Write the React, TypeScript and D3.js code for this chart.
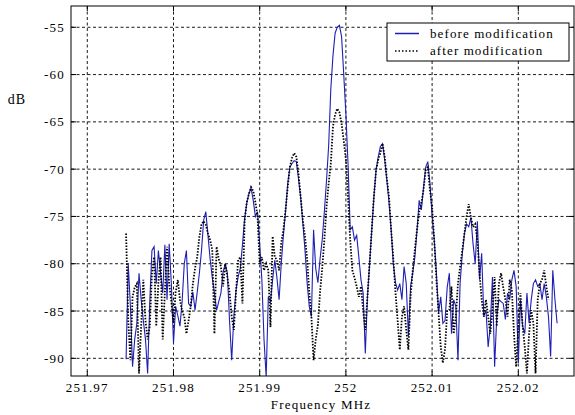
import React from 'react';
import * as d3 from 'd3';

// sampling grid of the spectrum analyser trace (MHz)
const F0 = 251.9745;
const DF = 0.00025;

// dB values, one per grid step
const beforeDb = [
  -90.1, -80.0, -84.5, -90.9, -88.0, -86.3, -81.0, -83.8, -86.0, -88.0,
  -91.6, -84.0, -78.6, -78.2, -82.1, -78.6, -81.0, -83.1, -78.0, -83.8,
  -77.9, -82.1, -88.4, -84.5, -85.5, -86.6, -84.0, -80.0, -78.6, -84.2,
  -84.5, -83.0, -84.9, -83.0, -81.0, -78.6, -75.4, -74.5, -77.0, -79.5,
  -81.5, -83.1, -84.9, -84.0, -83.1, -80.9, -80.0, -81.0, -86.0, -90.2,
  -85.6, -82.8, -81.4, -80.5, -78.0, -75.2, -73.6, -72.6, -72.0, -73.3,
  -75.0, -74.5, -77.9, -81.7, -88.0, -92.0, -83.5, -84.0, -81.7, -79.6,
  -81.5, -83.8, -80.0, -77.0, -74.5, -71.5, -69.8, -69.4, -69.1, -69.2,
  -71.0, -73.0, -75.7, -78.5, -82.0, -84.5, -85.6, -76.4, -80.5, -82.0,
  -79.5, -77.5, -74.5, -71.2, -67.5, -61.5, -58.0, -55.6, -55.0, -54.8,
  -56.0, -60.0, -64.2, -69.5, -76.4, -76.1, -77.5, -77.0, -79.3, -81.7,
  -83.1, -89.5, -83.5, -80.0, -76.4, -72.9, -70.1, -68.7, -67.6, -67.3,
  -69.0, -71.2, -73.5, -76.4, -80.0, -82.0, -82.8, -82.1, -83.8, -80.3,
  -82.1, -87.7, -82.4, -81.0, -79.3, -76.4, -73.3, -74.3, -72.0, -69.8,
  -69.2, -71.5, -75.0, -77.5, -81.0, -85.2, -83.5, -86.3, -86.0, -82.5,
  -81.0, -87.4, -83.8, -84.5, -90.2, -82.0, -79.0, -76.8, -75.8, -76.1,
  -75.1, -77.9, -80.0, -75.5, -81.7, -78.9, -85.6, -84.9, -88.8, -86.6,
  -81.4, -90.9, -85.6, -83.8, -84.0, -84.2, -85.9, -83.1, -83.8, -81.7,
  -80.7, -82.4, -90.5, -83.8, -86.6, -87.4, -83.1, -86.3, -83.8, -82.1,
  -81.7, -82.4, -82.1, -83.8, -82.1, -83.5, -85.6, -89.8, -80.7, -83.8,
  -86.3,
];

const afterDb = [
  -76.8, -86.0, -90.2, -83.5, -82.5, -82.1, -91.6, -86.6, -81.7, -86.0,
  -88.0, -86.6, -81.0, -79.3, -86.6, -82.0, -79.3, -88.0, -83.0, -78.2,
  -82.1, -84.0, -86.3, -83.0, -81.7, -83.8, -85.0, -85.6, -87.4, -86.0,
  -84.5, -82.1, -80.5, -79.3, -77.2, -75.8, -75.5, -75.9, -76.8, -77.5,
  -78.5, -87.4, -78.2, -79.5, -80.3, -82.4, -80.0, -81.4, -83.0, -85.6,
  -87.0, -83.0, -79.6, -79.3, -84.2, -75.5, -73.5, -72.6, -71.9, -72.3,
  -73.5, -75.0, -80.0, -79.3, -80.7, -80.0, -80.7, -86.7, -77.1, -79.3,
  -79.6, -80.7, -77.8, -76.4, -74.3, -71.9, -69.8, -68.8, -68.3, -68.7,
  -70.5, -72.9, -75.4, -77.1, -79.5, -83.0, -85.6, -90.2, -88.0, -86.5,
  -83.0, -80.5, -77.5, -74.0, -71.5, -69.4, -65.5, -64.2, -63.6, -64.0,
  -65.2, -67.0, -69.0, -73.0, -77.5, -80.7, -81.5, -82.4, -83.5, -82.4,
  -84.9, -87.0, -83.5, -80.0, -76.4, -72.9, -70.1, -69.0, -68.3, -67.3,
  -68.7, -71.0, -72.9, -76.5, -79.5, -83.0, -86.0, -89.1, -85.6, -84.5,
  -87.0, -89.1, -83.5, -80.7, -78.5, -76.4, -74.5, -73.6, -72.2, -70.1,
  -69.8, -72.2, -74.0, -77.5, -81.7, -85.2, -88.8, -90.5, -89.0, -85.0,
  -84.9, -82.4, -87.4, -85.6, -82.1, -80.3, -78.6, -76.8, -75.0, -73.7,
  -75.1, -76.1, -75.8, -77.5, -81.0, -83.8, -85.6, -83.8, -85.6, -87.4,
  -84.9, -81.4, -86.6, -82.1, -81.0, -82.5, -83.8, -85.6, -81.7, -82.8,
  -87.4, -90.9, -86.6, -83.1, -86.6, -88.8, -91.6, -87.4, -84.9, -86.3,
  -91.6, -83.8, -82.1, -81.7, -80.7, -82.4, -83.8,
];

const xTicks = [251.97, 251.98, 251.99, 252, 252.01, 252.02];
const xTickLabels = ['251.97', '251.98', '251.99', '252', '252.01', '252.02'];
const yTicks = [-55, -60, -65, -70, -75, -80, -85, -90];
const legendLabels = ['before modification', 'after modification'];

const W = 575;
const H = 415;
const plot = { left: 71, top: 6, right: 574, bottom: 376 };
const BLUE = '#1f1fb4';
const txt = { fontFamily: '"Liberation Serif", "DejaVu Serif", serif' };

export default function App() {
  const x = d3.scaleLinear().domain([251.96811, 252.02646]).range([plot.left, plot.right]);
  const y = d3.scaleLinear().domain([-91.87, -52.75]).range([plot.bottom, plot.top]);

  const line = d3
    .line<number>()
    .x((_, i) => x(F0 + i * DF))
    .y((d) => y(d));

  const gridStyle = { stroke: '#000', strokeWidth: 0.9, strokeDasharray: '3,2.5' };

  return (
    <svg width={W} height={H} style={{ position: 'absolute', left: 0, top: 0, background: '#fff' }}>
      <defs>
        <clipPath id="plotClip">
          <rect x={plot.left} y={plot.top} width={plot.right - plot.left} height={plot.bottom - plot.top} />
        </clipPath>
      </defs>
      <rect x={0} y={0} width={W} height={H} fill="#fff" />

      {/* grid */}
      {yTicks.map((t) => (
        <line key={'gy' + t} x1={plot.left} x2={plot.right} y1={y(t)} y2={y(t)} {...gridStyle} />
      ))}
      {xTicks.map((t) => (
        <line key={'gx' + t} x1={x(t)} x2={x(t)} y1={plot.top} y2={plot.bottom} {...gridStyle} />
      ))}

      {/* traces */}
      <g clipPath="url(#plotClip)" fill="none">
        <path d={line(beforeDb) ?? ''} stroke={BLUE} strokeWidth={1.1} />
        <path d={line(afterDb) ?? ''} stroke="#000" strokeWidth={1.8} strokeDasharray="1.5,1.5" />
      </g>

      {/* box + ticks */}
      <rect
        x={plot.left}
        y={plot.top}
        width={plot.right - plot.left}
        height={plot.bottom - plot.top}
        fill="none"
        stroke="#000"
        strokeWidth={1}
      />
      {xTicks.map((t) => (
        <g key={'tx' + t} stroke="#000">
          <line x1={x(t)} x2={x(t)} y1={plot.bottom} y2={plot.bottom - 5} />
          <line x1={x(t)} x2={x(t)} y1={plot.top} y2={plot.top + 5} />
        </g>
      ))}
      {yTicks.map((t) => (
        <g key={'ty' + t} stroke="#000">
          <line x1={plot.left} x2={plot.left + 5} y1={y(t)} y2={y(t)} />
          <line x1={plot.right} x2={plot.right - 5} y1={y(t)} y2={y(t)} />
        </g>
      ))}

      {/* tick labels */}
      <g fill="#000" style={txt}>
        {xTicks.map((t, i) => (
          <text key={'lx' + t} x={x(t)} y={392} textAnchor="middle" fontSize={13} letterSpacing={1.2} style={txt}>
            {xTickLabels[i]}
          </text>
        ))}
        {yTicks.map((t) => (
          <text key={'ly' + t} x={65} y={y(t) + 4.5} textAnchor="end" fontSize={13} letterSpacing={1.2} style={txt}>
            {t}
          </text>
        ))}
        <text x={321} y={408.5} textAnchor="middle" fontSize={13} letterSpacing={1.2} style={txt}>
          Frequency MHz
        </text>
        <text x={17} y={104} textAnchor="middle" fontSize={14} letterSpacing={1} style={txt}>
          dB
        </text>
      </g>

      {/* legend */}
      <g>
        <rect x={387} y={23} width={182} height={38} fill="#fff" stroke="#000" strokeWidth={1} />
        <line x1={395} x2={419} y1={33.5} y2={33.5} stroke={BLUE} strokeWidth={1.5} />
        <line x1={395} x2={419} y1={51} y2={51} stroke="#000" strokeWidth={1.5} strokeDasharray="1.5,2" />
        {legendLabels.map((l, i) => (
          <text key={l} x={430} y={37.5 + i * 17.5} fontSize={13} letterSpacing={1.1} fill="#000" style={txt}>
            {l}
          </text>
        ))}
      </g>
    </svg>
  );
}
